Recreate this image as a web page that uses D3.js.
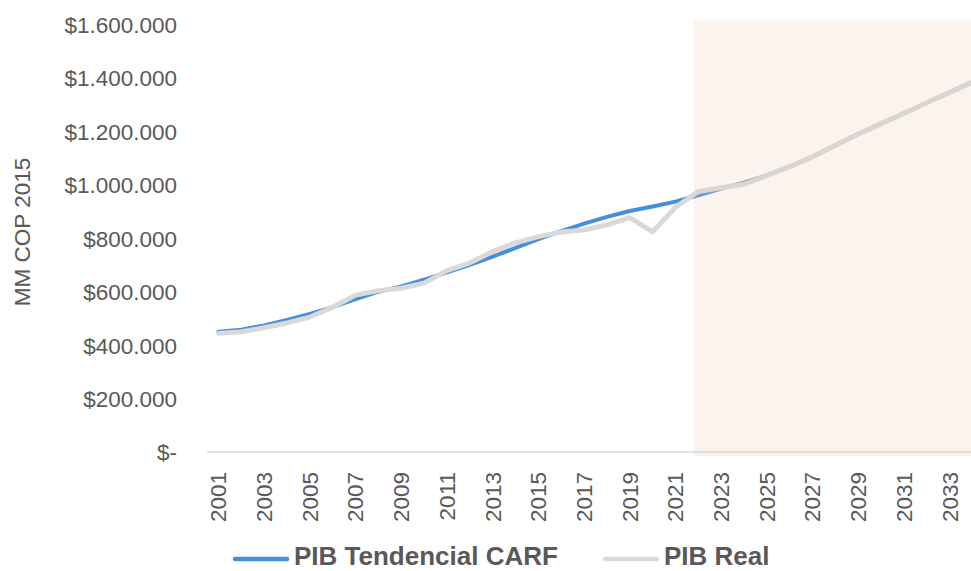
<!DOCTYPE html>
<html>
<head>
<meta charset="utf-8">
<script src="https://cdn.jsdelivr.net/npm/d3@7"></script>
<style>
  html, body { margin: 0; padding: 0; background: #fff; }
  svg { display: block; font-family: 'Liberation Sans', Arial, sans-serif; }
</style>
</head>
<body>
<svg id="chart"></svg>
<script>
const years = ['2001', '2002', '2003', '2004', '2005', '2006', '2007', '2008', '2009', '2010',
  '2011', '2012', '2013', '2014', '2015', '2016', '2017', '2018', '2019', '2020',
  '2021', '2022', '2023', '2024', '2025', '2026', '2027', '2028', '2029', '2030',
  '2031', '2032', '2033', '2034'];

// MM COP 2015
const pibTendencial = [450000, 458000, 474000, 494000, 517000, 542000, 572000, 600000, 620000, 645000,
  672000, 700000, 731000, 764000, 797000, 827000, 855000, 880000, 902000, 919000,
  937000, 961000, 986000, 1008000, 1035000, 1068000, 1105000, 1148000, 1190000, 1229000,
  1268000, 1307000, 1346000, 1385000];

const pibReal = [444000, 450000, 465000, 483000, 505000, 542000, 587000, 604000, 613000, 632000,
  679000, 708000, 750000, 783000, 806000, 823000, 831000, 850000, 877000, 824000,
  916000, 975000, 989000, 1002000, 1035000, 1068000, 1105000, 1148000, 1190000, 1229000,
  1268000, 1307000, 1346000, 1385000];

const yTicks = [0, 200000, 400000, 600000, 800000, 1000000, 1200000, 1400000, 1600000];
const xTickYears = years.filter((d, i) => i % 2 === 0);
const forecastStart = '2022';
const forecastTop = 1615000;

const seriesNames = ['PIB Tendencial CARF', 'PIB Real'];
const seriesColors = ['#4590DB', '#D9D9D9'];

const width = 971;
const height = 571;
const textColor = '#595959';

const svg = d3.select('#chart').attr('width', width).attr('height', height);

const x = d3.scalePoint().domain(years).range([218.5, 972.5]);
const step = x.step();
const y = d3.scaleLinear().domain([0, 1600000]).range([452, 24.5]);

const fmt = (v) => v === 0 ? '$-' : '$' + d3.format(',')(v).replace(/,/g, '.');

// y axis labels
const yAxis = d3.axisLeft(y).tickValues(yTicks).tickFormat(fmt).tickSize(0).tickPadding(0);
svg.append('g')
  .attr('transform', 'translate(177,0)')
  .call(yAxis)
  .call(g => g.select('.domain').remove())
  .call(g => g.selectAll('text')
    .attr('fill', textColor)
    .attr('font-size', 22.5)
    .attr('font-family', "'Liberation Sans', Arial, sans-serif")
    .attr('dy', '0.35em'));

// y axis title
svg.append('text')
  .attr('transform', 'translate(22.5,232) rotate(-90)')
  .attr('text-anchor', 'middle')
  .attr('dy', '0.35em')
  .attr('fill', textColor)
  .attr('font-size', 22.5)
  .text('MM COP 2015');

// x axis line
svg.append('line')
  .attr('x1', x(years[0]) - step / 2)
  .attr('x2', width)
  .attr('y1', y(0))
  .attr('y2', y(0))
  .attr('stroke', '#D9D9D9')
  .attr('stroke-width', 1.5);

// x tick labels
svg.append('g')
  .selectAll('text')
  .data(xTickYears)
  .join('text')
  .attr('transform', d => `translate(${x(d)},472) rotate(-90)`)
  .attr('text-anchor', 'end')
  .attr('dy', '0.35em')
  .attr('fill', textColor)
  .attr('font-size', 22.5)
  .text(d => d);

// lines
const line = (vals) => d3.line()
  .x((d, i) => x(years[i]))
  .y(d => y(d))(vals);

svg.append('path')
  .attr('d', line(pibTendencial))
  .attr('fill', 'none')
  .attr('stroke', seriesColors[0])
  .attr('stroke-width', 4)
  .attr('stroke-linejoin', 'round')
  .attr('stroke-linecap', 'round');

svg.append('path')
  .attr('d', line(pibReal))
  .attr('fill', 'none')
  .attr('stroke', seriesColors[1])
  .attr('stroke-width', 5)
  .attr('stroke-linejoin', 'round')
  .attr('stroke-linecap', 'round');

// forecast shading
svg.append('rect')
  .attr('x', x(forecastStart) - step * 0.2)
  .attr('y', y(forecastTop))
  .attr('width', width)
  .attr('height', y(0) + 4 - y(forecastTop))
  .attr('fill', '#EBC6AB')
  .attr('opacity', 0.2);

// legend
const legend = svg.append('g');
const legendItems = [
  { x: 235, label: seriesNames[0], color: seriesColors[0] },
  { x: 605, label: seriesNames[1], color: seriesColors[1] },
];
legendItems.forEach(item => {
  legend.append('line')
    .attr('x1', item.x).attr('x2', item.x + 52)
    .attr('y1', 559).attr('y2', 559)
    .attr('stroke', item.color)
    .attr('stroke-width', 4.5)
    .attr('stroke-linecap', 'round');
  legend.append('text')
    .attr('x', item.x + 59)
    .attr('y', 565)
    .attr('fill', textColor)
    .attr('font-size', 26)
    .attr('font-weight', 'bold')
    .text(item.label);
});
</script>
</body>
</html>
